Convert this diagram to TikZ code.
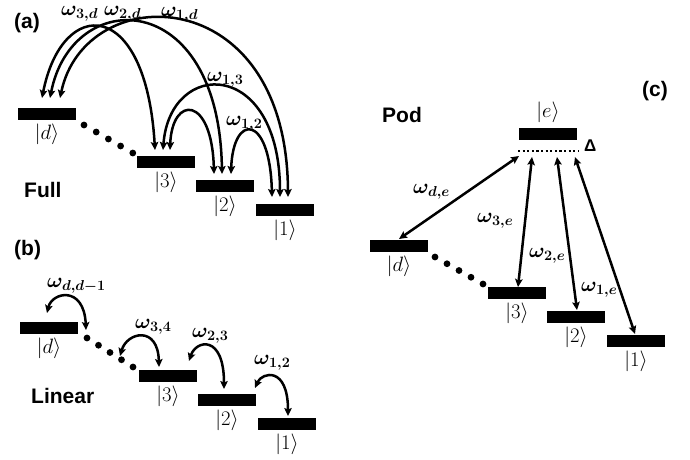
\documentclass[tikz,border=0pt]{standalone}
\usepackage{fontspec}
\usepackage{amsmath}
\usetikzlibrary{arrows.meta,calc}
\newfontfamily\tagfont{Liberation Sans}

\begin{document}
\begin{tikzpicture}[x=1pt,y=-1pt,
  level/.style={fill=black, minimum width=58pt, minimum height=12pt, inner sep=0pt, outer sep=0pt},
  ket/.style={font=\fontsize{20}{22}\selectfont, inner sep=0pt},
  freq/.style={font=\fontsize{21.5}{24}\selectfont\boldmath, inner sep=0pt, anchor=base west},
  tag/.style={font=\tagfont\bfseries\fontsize{21}{24}\selectfont, inner sep=0pt, anchor=base west},
  link/.style={line width=2.5pt, {Stealth[length=8pt,width=7.5pt,inset=1.5pt]}-{Stealth[length=8pt,width=7.5pt,inset=1.5pt]}}
]
\useasboundingbox (0,0) rectangle (690,459);

% ---------------- (a) full coupling ----------------
\node[tag] (ta) at (14,28) {(a)};
\node[tag] (tfull) at (24,197) {Full};
\node[level] (ad) at (47,114) {};
\node[level] (a3) at (166,162) {};
\node[level] (a2) at (225,186) {};
\node[level] (a1) at (285,210) {};
\node[ket,anchor=north] (kad) at ([yshift=-4pt]ad.south) {$|d\rangle$};
\node[ket,anchor=north] (ka3) at ([yshift=-4pt]a3.south) {$|3\rangle$};
\node[ket,anchor=north] (ka2) at ([yshift=-4pt]a2.south) {$|2\rangle$};
\node[ket,anchor=north] (ka1) at ([yshift=-4pt]a1.south) {$|1\rangle$};
\foreach \i in {0,...,4} \fill ($(84,125)+\i*(12.2,7)$) circle (3.4pt);

\draw[link] ($(ad.north west)+(24,-10)$) .. controls (62,-4) and (146,-4) .. ($(a3.north west)+(18,-6)$);
\draw[link] ($(ad.north west)+(32,-10)$) .. controls (72,-14) and (219,-14) .. ($(a2.north west)+(26,-6)$);
\draw[link] ($(ad.north west)+(42,-10)$) .. controls (85,-21) and (287,-21) .. ($(a1.north west)+(32,-7)$);
\draw[link] ($(a3.north west)+(26,-6)$) .. controls (170,58) and (280,58) .. ($(a1.north west)+(24,-7)$);
\draw[link] ($(a3.north west)+(33,-6)$) .. controls (172,95) and (212,95) .. ($(a2.north west)+(18,-6)$);
\draw[link] ($(a2.north west)+(35,-6)$) .. controls (233,113) and (270,113) .. ($(a1.north west)+(16,-7)$);

\node[freq] (f3d) at (61,15.5) {$\omega_{3,d}$};
\node[freq] (f2d) at (104,15.5) {$\omega_{2,d}$};
\node[freq] (f1d) at (161,16.5) {$\omega_{1,d}$};
\node[freq] (f13) at (207,81) {$\omega_{1,3}$};
\node[freq] (f12) at (226,125) {$\omega_{1,2}$};

% ---------------- (b) linear chain ----------------
\node[tag] (tb) at (14,255) {(b)};
\node[tag] (tlin) at (31,403) {Linear};
\node[level] (bd) at (49,328) {};
\node[level] (b3) at (168,376) {};
\node[level] (b2) at (227,400) {};
\node[level] (b1) at (287,424) {};
\node[ket,anchor=north] (kbd) at ([yshift=-4pt]bd.south) {$|d\rangle$};
\node[ket,anchor=north] (kb3) at ([yshift=-4pt]b3.south) {$|3\rangle$};
\node[ket,anchor=north] (kb2) at ([yshift=-4pt]b2.south) {$|2\rangle$};
\node[ket,anchor=north] (kb1) at ([yshift=-4pt]b1.south) {$|1\rangle$};
\foreach \i in {0,...,4} \fill ($(87,338)+\i*(11.5,7.25)$) circle (3.4pt);
\coordinate (bgap) at (86,330);
\coordinate (bdots) at (120,356);

\draw[link] ($(bd.north)+(-2,-9)$) .. controls (52,292) and (84,285) .. (bgap);
\draw[link] (bdots) .. controls (127,332) and (158,325) .. ($(b3.north west)+(20,-3)$);
\draw[link] ($(b3.north east)+(-8,-9)$) .. controls (196,340) and (224,334) .. ($(b2.north west)+(26,-5)$);
\draw[link] ($(b2.north east)+(-1,-6)$) .. controls (262,372) and (288,366) .. ($(b1.north west)+(30,-2)$);

\node[freq] (fdd) at (47,287) {$\omega_{d,d-1}$};
\node[freq] (f34) at (135,328) {$\omega_{3,4}$};
\node[freq] (f23) at (192,337) {$\omega_{2,3}$};
\node[freq] (fb12) at (254,364) {$\omega_{1,2}$};

% ---------------- (c) pod ----------------
\node[tag] (tc) at (642,96) {(c)};
\node[tag] (tpod) at (382,122) {Pod};
\node[level] (ce) at (548,134) {};
\node[ket,anchor=south] (kce) at ([yshift=5pt]ce.north) {$|e\rangle$};
\coordinate (dl) at (518,151);
\coordinate (dr) at (578,151);
\draw[line width=2.4pt, dash pattern=on 2.2pt off 2.4pt] (dl) -- (dr);
\node[font=\tagfont\bfseries\fontsize{17}{19}\selectfont, inner sep=0pt, anchor=base west] (tdelta) at (584,151) {Δ};
\node[level] (cd) at (399,246) {};
\node[level] (c3) at (517,293) {};
\node[level] (c2) at (576,317) {};
\node[level] (c1) at (636,341) {};
\node[ket,anchor=north] (kcd) at ([yshift=-4pt]cd.south) {$|d\rangle$};
\node[ket,anchor=north] (kc3) at ([yshift=-4pt]c3.south) {$|3\rangle$};
\node[ket,anchor=north] (kc2) at ([yshift=-4pt]c2.south) {$|2\rangle$};
\node[ket,anchor=north] (kc1) at ([yshift=-4pt]c1.south) {$|1\rangle$};
\foreach \i in {0,...,4} \fill ($(435,257)+\i*(12,6.75)$) circle (3.4pt);

\draw[link] ($(cd.north)+(0,-1)$) -- ($(dl)+(1,5)$);
\draw[link] ($(c3.north west)+(30,0)$) -- ($(dl)+(14,6)$);
\draw[link] ($(c2.north west)+(30,-1)$) -- ($(dl)+(39,6)$);
\draw[link] ($(c1.north west)+(28,-1)$) -- ($(dl)+(57,6)$);

\node[freq] (fde) at (413,193) {$\omega_{d,e}$};
\node[freq] (f3e) at (477,222) {$\omega_{3,e}$};
\node[freq] (f2e) at (529,257) {$\omega_{2,e}$};
\node[freq] (f1e) at (581,291) {$\omega_{1,e}$};
\end{tikzpicture}
\end{document}
